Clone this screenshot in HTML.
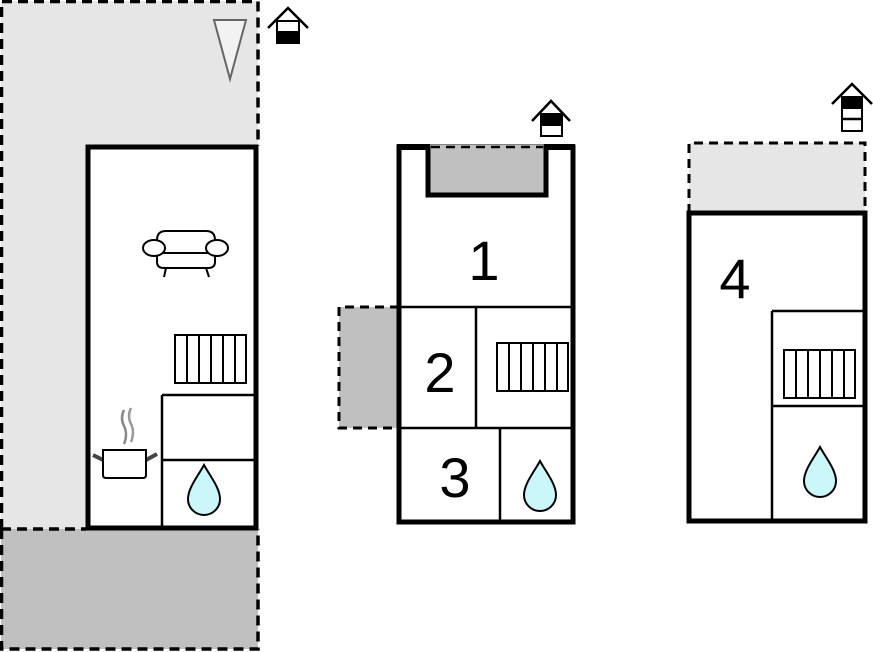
<!DOCTYPE html>
<html><head><meta charset="utf-8"><style>
html,body{margin:0;padding:0;background:#fff;}
svg{display:block;}
text{font-family:"Liberation Sans",sans-serif;font-size:56px;fill:#000;text-anchor:middle;}
</style></head><body>
<svg width="874" height="652" viewBox="0 0 874 652" xmlns="http://www.w3.org/2000/svg">
<defs>
<g id="drop"><path d="M0,-25 C-6,-14 -16,-2 -16,9 A16,16 0 0 0 16,9 C16,-2 6,-14 0,-25 Z" fill="#ccf7fa" stroke="#000" stroke-width="2"/></g>
<g id="stairs"><rect x="0" y="0" width="71" height="48" fill="#fff" stroke="#000" stroke-width="2"/>
<path d="M12,0V48M24,0V48M36,0V48M48,0V48M60,0V48" stroke="#000" stroke-width="2"/></g>
</defs>
<!-- LEFT -->
<path d="M1,1 H258 V146 H86 V529 H1 Z" fill="#e6e6e6"/>
<rect x="1" y="529" width="257" height="120" fill="#c0c0c0"/>
<path d="M1.5,529 V1.5 H258 V146" fill="none" stroke="#000" stroke-width="3.5" stroke-dasharray="10,6"/>
<path d="M1.5,529 V649 H258 V529 M1,529 H86" fill="none" stroke="#000" stroke-width="3.5" stroke-dasharray="10,6"/>
<polygon points="214,20 246,20 230,79" fill="#f2f2f2" stroke="#666" stroke-width="2"/>
<rect x="88" y="147" width="168" height="381" fill="#fff" stroke="#000" stroke-width="5"/>
<path d="M162,395V528M162,395H256M162,460H256" stroke="#000" stroke-width="2.5" fill="none"/>
<use href="#stairs" x="175" y="335"/>
<use href="#drop" x="204" y="490"/>
<!-- sofa -->
<g fill="#fff" stroke="#000" stroke-width="2">
<path d="M157,240 Q157,231 166,231 H206 Q215,231 215,240 V262 Q215,268 208,268 H164 Q157,268 157,262 Z"/>
<path d="M157,253 H215"/>
<ellipse cx="154" cy="248" rx="11" ry="8"/>
<ellipse cx="217" cy="248" rx="11" ry="8"/>
<path d="M166,268 L164,277 M206,268 L209,277"/>
</g>
<!-- pot -->
<path d="M124,410 q-4,8 0,16 q4,8 0,18" stroke="#888" stroke-width="2.5" fill="none"/>
<path d="M131,408 q-4,8 0,16 q4,8 0,18" stroke="#999" stroke-width="2.5" fill="none"/>
<path d="M93,455 L103,460 M146,460 L157,454" stroke="#444" stroke-width="4"/>
<path d="M103,450 H146 V475 Q146,478 143,478 H106 Q103,478 103,475 Z" fill="#fff" stroke="#000" stroke-width="2"/>
<!-- house icon left -->
<g stroke="#000" stroke-width="2.5" fill="none">
<path d="M268,28 L288,8 L308,28"/>
<rect x="277" y="21" width="22" height="22" fill="#fff" stroke-width="2"/>
<rect x="277" y="32" width="22" height="11" fill="#000" stroke-width="2"/>
</g>
<!-- MIDDLE -->
<rect x="339" y="307" width="60" height="121" fill="#c0c0c0"/>
<path d="M399,307 H339 V428 H399" fill="none" stroke="#000" stroke-width="3" stroke-dasharray="9,6"/>
<rect x="399" y="147" width="174" height="375" fill="#fff" stroke="#000" stroke-width="5"/>
<rect x="428" y="145" width="118" height="50" fill="#c0c0c0"/>
<path d="M428,145 V195 H546 V145" fill="none" stroke="#000" stroke-width="5"/>
<path d="M431,147 H543" stroke="#000" stroke-width="2.5" stroke-dasharray="9,6"/>
<rect x="397" y="144" width="33" height="6" fill="#000"/>
<rect x="544" y="144" width="31" height="6" fill="#000"/>
<path d="M399,307H573M476,307V428M399,428H573M500,428V522" stroke="#000" stroke-width="2.5"/>
<use href="#stairs" x="497" y="343"/>
<use href="#drop" x="540" y="486"/>
<text x="484" y="280">1</text>
<text x="440" y="392">2</text>
<text x="455" y="497">3</text>
<g stroke="#000" stroke-width="2.5" fill="none">
<path d="M532,121 L551,101 L570,121"/>
<rect x="541" y="114" width="21" height="22" fill="#fff" stroke-width="2"/>
<rect x="541" y="114" width="21" height="11" fill="#000" stroke-width="2"/>
</g>
<!-- RIGHT -->
<rect x="689" y="143" width="176" height="70" fill="#e6e6e6"/>
<path d="M689,213 V143 H865 V213" fill="none" stroke="#000" stroke-width="3" stroke-dasharray="9,6"/>
<rect x="689" y="213" width="176" height="308" fill="#fff" stroke="#000" stroke-width="5"/>
<path d="M772,311V521M772,311H865M772,406H865" stroke="#000" stroke-width="2.5"/>
<use href="#stairs" x="784" y="350"/>
<use href="#drop" x="820" y="472"/>
<text x="735" y="298">4</text>
<g stroke="#000" stroke-width="2.5" fill="none">
<path d="M832,104 L852,84 L872,104"/>
<rect x="842" y="97" width="20" height="34" fill="#fff" stroke-width="2"/>
<rect x="842" y="97" width="20" height="11" fill="#000" stroke-width="2"/>
<path d="M842,119 H862"/>
</g>
</svg>
</body></html>
